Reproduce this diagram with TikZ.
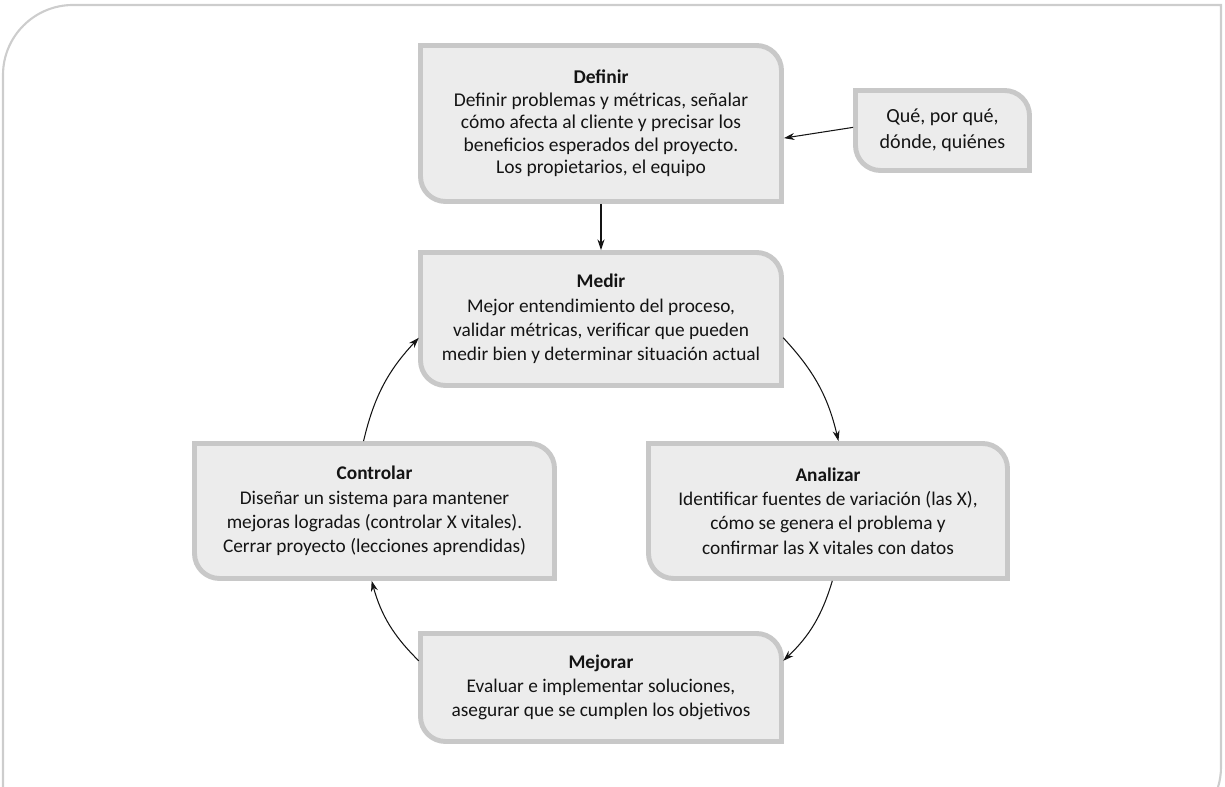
\documentclass[tikz,border=0pt]{standalone}
\usepackage{fontspec}
\setmainfont{Carlito}
\usetikzlibrary{arrows.meta, backgrounds}
\definecolor{fondogris}{HTML}{ECECEC}
\definecolor{bordegris}{HTML}{C8C8C8}
\definecolor{marcogris}{HTML}{CDCDCD}
\definecolor{texto}{HTML}{141414}

\begin{document}
\begin{tikzpicture}[
    etapa/.style={rectangle, align=center, inner sep=0pt, outer sep=0pt, text=texto, font=\fontsize{11}{13.8}\selectfont, minimum width=7.22cm},
    caja/.style={draw=bordegris, fill=fondogris, line width=2.8pt},
    flecha/.style={-{Stealth[length=6pt, width=4pt]}, line width=0.6pt, texto, shorten >=1.4pt, shorten <=1.4pt}
]
    \useasboundingbox (0, 0) rectangle (24.5, 15.74);

    % Marco exterior
    \draw[marcogris, line width=1.2pt] (0.06, -0.2) -- (0.06, 14.24) arc[start angle=180, end angle=90, radius=1.4] -- (24.42, 15.64) -- (24.42, 0.4) arc[start angle=0, end angle=-17, radius=1.4];

    % Etapas
    \node[etapa, minimum height=3.12cm, font=\fontsize{11.1}{12.8}\selectfont] (definir) at (12.02, 13.27) {\textbf{Definir}\\Definir problemas y métricas, señalar\\cómo afecta al cliente y precisar los\\beneficios esperados del proyecto.\\Los propietarios, el equipo};
    \node[etapa, minimum width=3.48cm, minimum height=1.60cm, font=\fontsize{11.4}{14.7}\selectfont] (que) at (18.85, 13.13) {Qué, por qué,\\dónde, quiénes};
    \node[etapa, minimum height=2.66cm] (medir) at (12.02, 9.36) {\textbf{Medir}\\Mejor entendimiento del proceso,\\validar métricas, verificar que pueden\\medir bien y determinar situación actual};
    \node[etapa, minimum width=7.20cm, minimum height=2.70cm] (controlar) at (7.49, 5.52) {\textbf{Controlar}\\Diseñar un sistema para mantener\\mejoras logradas (controlar X vitales).\\Cerrar proyecto (lecciones aprendidas)};
    \node[etapa, minimum width=7.18cm, minimum height=2.70cm] (analizar) at (16.56, 5.52) {\textbf{Analizar}\\Identificar fuentes de variación (las X),\\cómo se genera el problema y\\confirmar las X vitales con datos};
    \node[etapa, minimum height=2.16cm] (mejorar) at (12.02, 1.99) {\textbf{Mejorar}\\Evaluar e implementar soluciones,\\asegurar que se cumplen los objetivos};

    % Cajas con dos esquinas redondeadas
    \begin{scope}[on background layer]
        \foreach \n in {definir, que, medir, controlar, analizar, mejorar}
            \draw[caja] (\n.north west) -- ([xshift=-0.5cm]\n.north east) arc[start angle=90, end angle=0, radius=0.5cm] -- (\n.south east) -- ([xshift=0.5cm]\n.south west) arc[start angle=270, end angle=180, radius=0.5cm] -- cycle;
    \end{scope}

    % Conexiones
    \draw[flecha] ([yshift=0.07cm]que.west) -- ([yshift=-0.30cm]definir.east);
    \draw[flecha] (definir) -- (medir);
    \draw[flecha] ([yshift=-0.34cm]medir.east) to[bend left=15] ([xshift=0.22cm]analizar.north);
    \draw[flecha] ([xshift=0.10cm]analizar.south) to[bend left=15] ([yshift=0.5cm]mejorar.east);
    \draw[flecha] ([yshift=0.5cm]mejorar.west) to[bend left=15] ([xshift=-0.07cm]controlar.south);
    \draw[flecha] ([xshift=-0.23cm]controlar.north) to[bend left=15] ([yshift=-0.34cm]medir.west);
\end{tikzpicture}
\end{document}
